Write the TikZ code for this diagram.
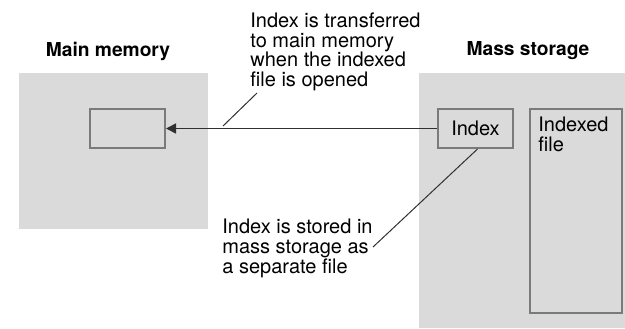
\documentclass[tikz,border=0pt]{standalone}
\usepackage{fontspec}
\setmainfont{TeX Gyre Heros}
\usetikzlibrary{arrows.meta}
\definecolor{areagray}{HTML}{DADADA}
\definecolor{boxline}{HTML}{7A7A7A}
\definecolor{inkline}{HTML}{303030}
\tikzset{
  area/.style={fill=areagray, draw=none, inner sep=0pt},
  filebox/.style={draw=boxline, line width=1pt, inner sep=0pt},
  heading/.style={font=\fontsize{9.6}{10}\selectfont\bfseries, anchor=base},
  note/.style={font=\fontsize{10}{9.8}\selectfont, align=left, anchor=north west, inner sep=0pt},
  lead/.style={draw=inkline, line width=0.5pt}
}
\begin{document}
\begin{tikzpicture}[x=0.5pt,y=-0.5pt]
\useasboundingbox (0,0) rectangle (625,328);
\node (mainmem) [area, minimum width=94.5pt, minimum height=78pt, anchor=north west] at (19,73) {};
\node (massstor) [area, minimum width=103pt, minimum height=127.5pt, anchor=north west] at (419,73) {};
\node [heading] at (108,56) {Main memory};
\node [heading] at (528,55) {Mass storage};
\node (memidx) [filebox, minimum width=37.5pt, minimum height=19.5pt, anchor=north west] at (89,108) {};
\node (index) [filebox, minimum width=37.5pt, minimum height=19.5pt, anchor=north west, font=\fontsize{10}{10}\selectfont] at (437,108) {Index};
\node (idxfile) [filebox, minimum width=46pt, minimum height=102pt, anchor=north west] at (529,108) {};
\node [note] at ([shift={(9,9)}]idxfile.north west) {Indexed\\file};
\draw [draw=inkline, line width=0.8pt, -{Triangle[length=5pt,width=5pt]}] (index.west) -- (memidx.east);
\node (movenote) [note] at (250,12.5) {Index is transferred\\to main memory\\when the indexed\\file is opened};
\node (storenote) [note] at (222,219) {Index is stored in\\mass storage as\\a separate file};
\coordinate (movefoot) at (223,126);
\coordinate (movetip) at (257,93);
\coordinate (storetip) at (373,247);
\draw [lead] (movefoot) -- (movetip);
\draw [lead] ([xshift=1pt]index.south) -- (storetip);
\end{tikzpicture}
\end{document}
